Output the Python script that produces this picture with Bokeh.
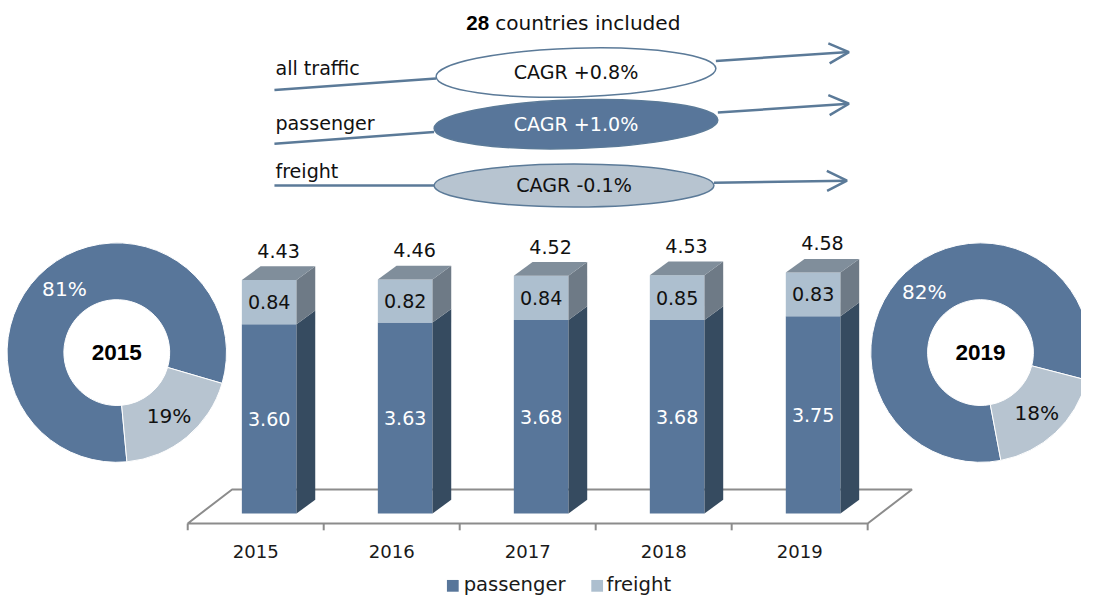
import numpy as np
from bokeh.plotting import figure
from bokeh.models import Range1d, Arrow, OpenHead, ColumnDataSource
from bokeh.core.properties import value
from bokeh.embed import file_html
from bokeh.resources import INLINE

# ---------------- data ----------------
years = ["2015", "2016", "2017", "2018", "2019"]
passenger = [3.60, 3.63, 3.68, 3.68, 3.75]
freight = [0.84, 0.82, 0.84, 0.85, 0.83]
totals = [4.43, 4.46, 4.52, 4.53, 4.58]

cagr_series = ["all traffic", "passenger", "freight"]
cagr_values = [0.8, 1.0, -0.1]
countries_included = 28

donut_years = ["2015", "2019"]
donut_passenger_share = [81, 82]
donut_freight_share = [19, 18]

# ---------------- styles ----------------
C_PASS = "#58769a"
C_PASS_SIDE = "#364b60"
C_FR = "#adbfcf"
C_FR_SIDE = "#6e7a86"
C_TOP = "#808e9b"
C_DON_FR = "#b7c4d0"
C_LINE = "#5b7a98"
C_FLOOR = "#8c8c8c"
FONT = "DejaVu Sans"
BOLD_FONT = "Liberation Sans"

# layout mapping: reference pixel -> data units
X0PX, XSTEP = 259.0, 138.0
Y0PX, YSCALE = 526.7, 54.0
REF_W, REF_H = 1097, 614
W, H = 1081, 598
SX, SY = W / REF_W, H / REF_H
S = (SX + SY) / 2


def dx(px):
    return (px - X0PX) / XSTEP


def dy(py):
    return (Y0PX - py) / YSCALE


def fs(px):
    return f"{px * S:.1f}px"


p = figure(width=W, height=H, x_range=Range1d(dx(0), dx(REF_W)),
           y_range=Range1d(dy(REF_H), dy(0)), output_backend="svg",
           toolbar_location=None, min_border=0)
p.xaxis.visible = False
p.yaxis.visible = False
p.grid.visible = False
p.outline_line_color = None
p.background_fill_color = "white"
p.border_fill_color = "white"

n = len(years)
idx = np.arange(n, dtype=float)
pas = np.array(passenger)
frt = np.array(freight)
top = pas + frt

BAR_OFF = 0.099
BAR_HALF = 0.201
DX = 19 / XSTEP
DY = 14 / YSCALE
xl = idx + BAR_OFF - BAR_HALF
xr = idx + BAR_OFF + BAR_HALF
xc = idx + BAR_OFF

# ---------------- floor ----------------
F_FRONT = dy(537)
F_DX, F_DY = 45 / XSTEP, 35 / YSCALE
fx0, fx1 = -0.5, n - 0.5
p.patch([fx0, fx1, fx1 + F_DX, fx0 + F_DX],
        [F_FRONT, F_FRONT, F_FRONT + F_DY, F_FRONT + F_DY],
        fill_color=None, line_color=C_FLOOR, line_width=2)
ticks = np.arange(n + 1) - 0.5
p.segment(x0=ticks, y0=[F_FRONT] * (n + 1), x1=ticks,
          y1=[F_FRONT - 7 / YSCALE] * (n + 1), line_color=C_FLOOR, line_width=2)

# ---------------- 3D bars ----------------
p.quad(left=xl, right=xr, bottom=np.zeros(n), top=pas, fill_color=C_PASS, line_color=None)
p.quad(left=xl, right=xr, bottom=pas, top=top, fill_color=C_FR, line_color=None)
side_x = [[a, a + DX, a + DX, a] for a in xr]
side_p_y = [[0, DY, b + DY, b] for b in pas]
p.patches(side_x, side_p_y, fill_color=C_PASS_SIDE, line_color=None)
side_f_y = [[b, b + DY, t + DY, t] for b, t in zip(pas, top)]
p.patches(side_x, side_f_y, fill_color=C_FR_SIDE, line_color=None)
top_x = [[a, b, b + DX, a + DX] for a, b in zip(xl, xr)]
top_y = [[t, t, t + DY, t + DY] for t in top]
p.patches(top_x, top_y, fill_color=C_TOP, line_color=None)

# value labels
p.text(x=xc, y=pas / 2, text=[f"{v:.2f}" for v in passenger], text_align="center",
       text_baseline="middle", text_color="white", text_font=value(FONT),
       text_font_size=fs(19.5))
p.text(x=xc, y=pas + frt / 2, text=[f"{v:.2f}" for v in freight], text_align="center",
       text_baseline="middle", text_color="#111111", text_font=value(FONT),
       text_font_size=fs(19.5))
p.text(x=xc + DX / 2, y=top + DY + 16 / YSCALE, text=[f"{v:.2f}" for v in totals],
       text_align="center", text_baseline="middle", text_color="#111111",
       text_font=value(FONT), text_font_size=fs(19.5))

# category labels
p.text(x=idx, y=[dy(566)] * n, text=years, text_align="center", text_baseline="middle",
       text_color="#1a1a1a", text_font=value(FONT), text_font_size=fs(18.5))

# legend
p.scatter(x=[dx(459), dx(605.5)], y=[dy(601)] * 2, marker="square", size=12 * S,
          fill_color=[C_PASS, C_FR], line_color=None)
p.text(x=[dx(470), dx(615)], y=[dy(600)] * 2, text=["passenger", "freight"],
       text_align="left", text_baseline="middle", text_color="#1a1a1a",
       text_font=value(FONT), text_font_size=fs(20))

# ---------------- donuts ----------------
don_cx = [dx(118), dx(994.5)]
don_cy = [dy(361.5)] * 2
don_end = [-16.3, -14.5]   # angle (deg) where freight slice ends
R_IN, R_OUT = 54 * S, 112 * S
ps = np.array(donut_passenger_share, dtype=float)
fsh = np.array(donut_freight_share, dtype=float)
e = np.radians(don_end)
p_start, p_end = e, e + np.radians(ps / (ps + fsh) * 360)
f_start, f_end = e - np.radians(fsh / (ps + fsh) * 360), e
p.annular_wedge(x=don_cx, y=don_cy, inner_radius=R_IN, outer_radius=R_OUT,
                inner_radius_units="screen", outer_radius_units="screen",
                start_angle=p_start, end_angle=p_end, fill_color=C_PASS,
                line_color="white", line_width=1)
p.annular_wedge(x=don_cx, y=don_cy, inner_radius=R_IN, outer_radius=R_OUT,
                inner_radius_units="screen", outer_radius_units="screen",
                start_angle=f_start, end_angle=f_end, fill_color=C_DON_FR,
                line_color="white", line_width=1)
RL = 84 * S
pm = (p_start + p_end) / 2
fm = (f_start + f_end) / 2
p.text(x=don_cx, y=don_cy, x_offset=RL * np.cos(pm), y_offset=-RL * np.sin(pm),
       text=[f"{v}%" for v in donut_passenger_share], text_align="center",
       text_baseline="middle", text_color="white", text_font=value(FONT),
       text_font_size=fs(20.5))
p.text(x=don_cx, y=don_cy, x_offset=RL * np.cos(fm), y_offset=-RL * np.sin(fm),
       text=[f"{v}%" for v in donut_freight_share], text_align="center",
       text_baseline="middle", text_color="#111111", text_font=value(FONT),
       text_font_size=fs(20.5))
p.text(x=don_cx, y=don_cy, text=donut_years, text_align="center", text_baseline="middle",
       text_color="black", text_font=value(BOLD_FONT), text_font_style="bold",
       text_font_size=fs(23))

# ---------------- CAGR arrows ----------------
p.text(x=[dx(496)], y=[dy(23)], text=[str(countries_included)], text_align="right",
       text_baseline="middle", text_color="black", text_font=value(BOLD_FONT),
       text_font_style="bold", text_font_size=fs(21))
p.text(x=[dx(502)], y=[dy(23)], text=["countries included"], text_align="left",
       text_baseline="middle", text_color="#111111", text_font=value(FONT),
       text_font_size=fs(20.5))

row_lbl_y = [70, 126, 176]
seg_a = [((278, 92), (442, 80)), ((278, 147), (440, 135)), ((278, 190), (440, 190))]
seg_b = [((726, 62), (861, 53)), ((728, 115), (861, 106)), ((724, 187), (859, 185))]
ell = [(584, 74, 284, 50, 0.03), (584, 127, 288, 50, 0.03), (582, 190, 284, 44, 0.0)]
ell_fill = ["white", C_PASS, C_DON_FR]
ell_text = ["#111111", "white", "#111111"]

for (a0, a1) in seg_a:
    p.line([dx(a0[0]), dx(a1[0])], [dy(a0[1]), dy(a1[1])], line_color=C_LINE, line_width=2.5)
for (b0, b1) in seg_b:
    p.add_layout(Arrow(x_start=dx(b0[0]), y_start=dy(b0[1]), x_end=dx(b1[0]), y_end=dy(b1[1]),
                       line_color=C_LINE, line_width=2.5,
                       end=OpenHead(size=20, line_color=C_LINE, line_width=2.5)))

src = ColumnDataSource(dict(
    x=[dx(e_[0]) for e_ in ell], y=[dy(e_[1]) for e_ in ell],
    w=[e_[2] * SX for e_ in ell], h=[e_[3] * SY for e_ in ell], a=[e_[4] for e_ in ell],
    fill=ell_fill, tc=ell_text,
    label=[f"CAGR {v:+.1f}%" for v in cagr_values]))
p.ellipse(x="x", y="y", width="w", height="h", angle="a", width_units="screen",
          height_units="screen", fill_color="fill", line_color=C_LINE, line_width=1.5,
          source=src)
p.text(x="x", y="y", text="label", text_align="center", text_baseline="middle",
       text_color="tc", text_font=value(FONT), text_font_size=fs(19.5), source=src)

p.text(x=[dx(279)] * 3, y=[dy(v) for v in row_lbl_y], text=cagr_series, text_align="left",
       text_baseline="middle", text_color="#111111", text_font=value(FONT),
       text_font_size=fs(19.5))

open("out.html", "w").write(file_html(p, INLINE))
